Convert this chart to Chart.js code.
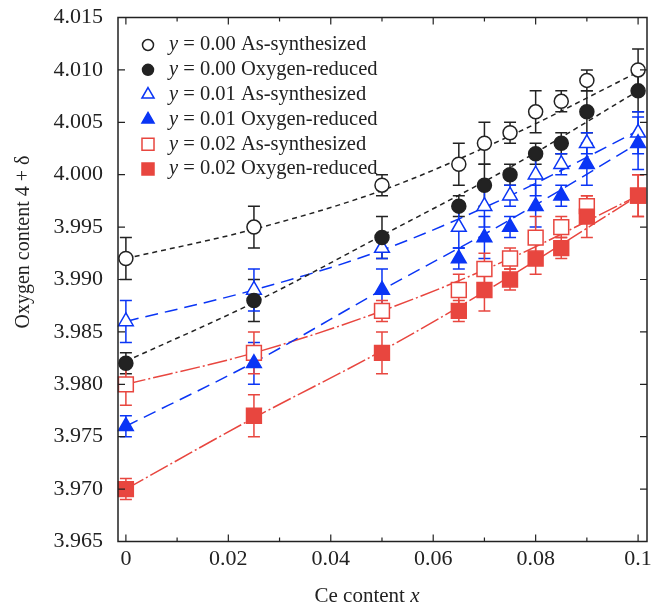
<!DOCTYPE html>
<html>
<head>
<meta charset="utf-8">
<script src="https://cdn.jsdelivr.net/npm/chart.js@4.4.0/dist/chart.umd.min.js"></script>
<style>
  html, body { margin: 0; padding: 0; background: #fff; }
</style>
</head>
<body>
<canvas id="chart" width="659" height="609"></canvas>
<script>
// Ce content (x) of the measured samples
const ceX = [0, 0.025, 0.05, 0.065, 0.07, 0.075, 0.08, 0.085, 0.09, 0.1];

// Oxygen content 4 + delta, with error bars
const y0As = [3.992, 3.995, 3.999, 4.001, 4.003, 4.004, 4.006, 4.007, 4.009, 4.010];
const y0AsErr = [0.002, 0.002, 0.001, 0.002, 0.002, 0.001, 0.002, 0.001, 0.001, 0.002];
const y0Red = [3.982, 3.988, 3.994, 3.997, 3.999, 4.000, 4.002, 4.003, 4.006, 4.008];
const y0RedErr = [0.001, 0.002, 0.002, 0.001, 0.002, 0.001, 0.001, 0.001, 0.002, 0.002];
const y1As = [3.986, 3.989, 3.993, 3.995, 3.997, 3.998, 4.000, 4.001, 4.003, 4.004];
const y1AsErr = [0.002, 0.002, 0.001, 0.002, 0.002, 0.001, 0.002, 0.001, 0.001, 0.002];
const y1Red = [3.976, 3.982, 3.989, 3.992, 3.994, 3.995, 3.997, 3.998, 4.001, 4.003];
const y1RedErr = [0.001, 0.002, 0.002, 0.001, 0.002, 0.001, 0.002, 0.001, 0.002, 0.0025];
const y2As = [3.980, 3.983, 3.987, 3.989, 3.991, 3.992, 3.994, 3.995, 3.997, 3.998];
const y2AsErr = [0.002, 0.002, 0.001, 0.0015, 0.0015, 0.001, 0.002, 0.001, 0.001, 0.002];
const y2Red = [3.970, 3.977, 3.983, 3.987, 3.989, 3.990, 3.992, 3.993, 3.996, 3.998];
const y2RedErr = [0.001, 0.002, 0.002, 0.001, 0.002, 0.001, 0.0015, 0.001, 0.002, 0.002];

// fitted curves at a few x positions
const fitX = [0, 0.025, 0.05, 0.075, 0.1];
const fit0As = [3.992, 3.9948, 3.9985, 4.0037, 4.0098];
const fit0Red = [3.9822, 3.9878, 3.9942, 4.0007, 4.008];
const fit1As = [3.986, 3.989, 3.9928, 3.998, 4.0042];
const fit1Red = [3.976, 3.9821, 3.989, 3.9957, 4.003];
const fit2As = [3.980, 3.983, 3.987, 3.992, 3.998];
const fit2Red = [3.970, 3.9768, 3.9832, 3.9903, 3.998];

const legendLabels = [
  'y = 0.00 As-synthesized',
  'y = 0.00 Oxygen-reduced',
  'y = 0.01 As-synthesized',
  'y = 0.01 Oxygen-reduced',
  'y = 0.02 As-synthesized',
  'y = 0.02 Oxygen-reduced'
];

const xTicks = [0, 0.01, 0.02, 0.03, 0.04, 0.05, 0.06, 0.07, 0.08, 0.09, 0.1];
const xTickLabels = ['0', '', '0.02', '', '0.04', '', '0.06', '', '0.08', '', '0.1'];
const yTicks = [3.965, 3.970, 3.975, 3.980, 3.985, 3.990, 3.995, 4.000, 4.005, 4.010, 4.015];
const yTickLabels = ['3.965', '3.970', '3.975', '3.980', '3.985', '3.990', '3.995', '4.000', '4.005', '4.010', '4.015'];

const BLACK = '#222222';
const BLUE = '#0a35f5';
const RED = '#e8463f';
const SERIF = "'Liberation Serif', 'Times New Roman', serif";

function pts(xs, ys) {
  return xs.map((x, i) => ({ x: x, y: ys[i] }));
}

// marker series
const markers = [
  { data: y0As, err: y0AsErr, style: 'circle', color: BLACK, filled: false, r: 7, lr: 5.5 },
  { data: y0Red, err: y0RedErr, style: 'circle', color: BLACK, filled: true, r: 7, lr: 5.5 },
  { data: y1As, err: y1AsErr, style: 'triangle', color: BLUE, filled: false, r: 8.5, lr: 7 },
  { data: y1Red, err: y1RedErr, style: 'triangle', color: BLUE, filled: true, r: 8.5, lr: 7 },
  { data: y2As, err: y2AsErr, style: 'rect', color: RED, filled: false, r: 10.5, lr: 8.5 },
  { data: y2Red, err: y2RedErr, style: 'rect', color: RED, filled: true, r: 10.5, lr: 8.5 }
];

const fits = [
  { data: fit0As, color: BLACK, dash: [5, 4] },
  { data: fit0Red, color: BLACK, dash: [5, 4] },
  { data: fit1As, color: BLUE, dash: [13, 7] },
  { data: fit1Red, color: BLUE, dash: [13, 7] },
  { data: fit2As, color: RED, dash: [20, 3, 2, 3] },
  { data: fit2Red, color: RED, dash: [20, 3, 2, 3] }
];

const datasets = [];
markers.forEach((m, i) => {
  datasets.push({
    type: 'line',
    label: legendLabels[i],
    data: pts(ceX, m.data),
    errors: m.err,
    showLine: false,
    pointStyle: m.style,
    pointRadius: m.r,
    pointBorderWidth: 1.5,
    pointBorderColor: m.color,
    pointBackgroundColor: m.filled ? m.color : '#ffffff',
    borderColor: m.color,
    errColor: m.color,
    order: m.filled ? 1 : 2,
    clip: false
  });
});
fits.forEach(f => {
  datasets.push({
    type: 'line',
    data: pts(fitX, f.data),
    borderColor: f.color,
    borderWidth: 1.5,
    borderDash: f.dash,
    pointRadius: 0,
    cubicInterpolationMode: 'monotone',
    fill: false,
    order: 3
  });
});

// error bars under the markers
const errorBars = {
  id: 'errorBars',
  beforeDatasetsDraw(chart) {
    const ctx = chart.ctx;
    const xs = chart.scales.x, ys = chart.scales.y;
    ctx.save();
    chart.data.datasets.forEach(ds => {
      if (!ds.errors) return;
      ctx.strokeStyle = ds.errColor;
      ctx.lineWidth = 1.5;
      ds.data.forEach((p, i) => {
        const px = xs.getPixelForValue(p.x);
        const top = ys.getPixelForValue(p.y + ds.errors[i]);
        const bot = ys.getPixelForValue(p.y - ds.errors[i]);
        ctx.beginPath();
        ctx.moveTo(px, top); ctx.lineTo(px, bot);
        ctx.moveTo(px - 6, top); ctx.lineTo(px + 6, top);
        ctx.moveTo(px - 6, bot); ctx.lineTo(px + 6, bot);
        ctx.stroke();
      });
    });
    ctx.restore();
  }
};

function drawMarker(ctx, style, x, y, r, color, filled) {
  ctx.beginPath();
  if (style === 'circle') {
    ctx.arc(x, y, r, 0, Math.PI * 2);
  } else if (style === 'triangle') {
    const h = r * 0.866;
    ctx.moveTo(x, y - r);
    ctx.lineTo(x + h, y + r / 2);
    ctx.lineTo(x - h, y + r / 2);
    ctx.closePath();
  } else {
    const s = r * Math.SQRT1_2;
    ctx.rect(x - s, y - s, 2 * s, 2 * s);
  }
  ctx.fillStyle = filled ? color : '#ffffff';
  ctx.strokeStyle = color;
  ctx.lineWidth = 1.5;
  ctx.fill();
  ctx.stroke();
}

// frame, inward ticks, legend and axis titles
const decorations = {
  id: 'decorations',
  afterDraw(chart) {
    const ctx = chart.ctx;
    const a = chart.chartArea;
    const xs = chart.scales.x, ys = chart.scales.y;
    ctx.save();
    ctx.strokeStyle = BLACK;
    ctx.lineWidth = 1.5;
    ctx.strokeRect(a.left, a.top, a.right - a.left, a.bottom - a.top);
    ctx.lineWidth = 1.2;
    ctx.beginPath();
    xs.ticks.forEach((t, i) => {
      const px = xs.getPixelForValue(t.value);
      const len = xTickLabels[i] ? 7 : 4;
      ctx.moveTo(px, a.bottom); ctx.lineTo(px, a.bottom - len);
      ctx.moveTo(px, a.top); ctx.lineTo(px, a.top + len);
    });
    ys.ticks.forEach(t => {
      const py = ys.getPixelForValue(t.value);
      ctx.moveTo(a.left, py); ctx.lineTo(a.left + 7, py);
      ctx.moveTo(a.right, py); ctx.lineTo(a.right - 7, py);
    });
    ctx.stroke();

    // legend
    ctx.textBaseline = 'middle';
    ctx.fillStyle = BLACK;
    legendLabels.forEach((label, i) => {
      const m = markers[i];
      const ly = 45 + i * 24.8;
      drawMarker(ctx, m.style, 148, ly, m.lr, m.color, m.filled);
      ctx.fillStyle = BLACK;
      ctx.font = 'italic 20.5px ' + SERIF;
      ctx.fillText(label.charAt(0), 169, ly);
      const w = ctx.measureText(label.charAt(0)).width;
      ctx.font = '20.5px ' + SERIF;
      ctx.fillText(label.slice(1), 169 + w, ly);
    });

    // x title: "Ce content x"
    ctx.textBaseline = 'alphabetic';
    ctx.font = '21px ' + SERIF;
    const xa = 'Ce content ';
    const wa = ctx.measureText(xa).width;
    ctx.font = 'italic 21px ' + SERIF;
    const wb = ctx.measureText('x').width;
    const sx = 367 - (wa + wb) / 2;
    ctx.font = '21px ' + SERIF;
    ctx.fillText(xa, sx, 602);
    ctx.font = 'italic 21px ' + SERIF;
    ctx.fillText('x', sx + wa, 602);

    // y title
    ctx.translate(29, 242);
    ctx.rotate(-Math.PI / 2);
    ctx.font = '20px ' + SERIF;
    ctx.textAlign = 'center';
    ctx.fillText('Oxygen content 4 + \u03b4', 0, 0);
    ctx.restore();
  }
};

new Chart(document.getElementById('chart'), {
  data: { datasets: datasets },
  options: {
    responsive: false,
    animation: false,
    events: [],
    layout: { padding: { top: 17.5, right: 6, left: 0, bottom: 0 } },
    plugins: { legend: { display: false }, tooltip: { enabled: false } },
    scales: {
      x: {
        type: 'linear',
        min: -0.00154,
        max: 0.10174,
        afterBuildTicks: s => { s.ticks = xTicks.map(v => ({ value: v })); },
        afterFit: s => { s.height = 67.5; s.paddingLeft = 0; s.paddingRight = 0; },
        grid: { display: false, drawTicks: false },
        border: { display: false },
        ticks: {
          autoSkip: false,
          maxRotation: 0,
          padding: 5,
          color: BLACK,
          font: { family: SERIF, size: 22 },
          callback: (v, i) => xTickLabels[i]
        }
      },
      y: {
        type: 'linear',
        min: 3.965,
        max: 4.015,
        afterBuildTicks: s => { s.ticks = yTicks.map(v => ({ value: v })); },
        afterFit: s => { s.width = 118; s.paddingTop = 0; s.paddingBottom = 0; },
        grid: { display: false, drawTicks: false },
        border: { display: false },
        ticks: {
          autoSkip: false,
          padding: 15,
          color: BLACK,
          font: { family: SERIF, size: 22 },
          callback: (v, i) => yTickLabels[i]
        }
      }
    }
  },
  plugins: [errorBars, decorations]
});
</script>
</body>
</html>
